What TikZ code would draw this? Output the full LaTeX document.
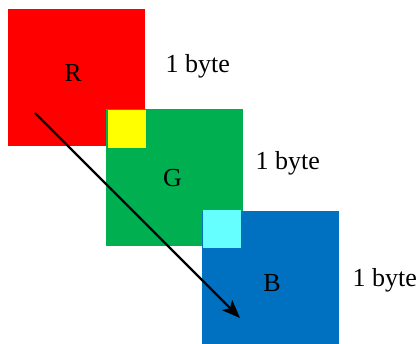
\documentclass[tikz,border=0pt]{standalone}
\usepackage{fontspec}
\setmainfont{Liberation Serif}
\usetikzlibrary{arrows.meta}
\definecolor{cred}{HTML}{FF0000}
\definecolor{cgreen}{HTML}{00B050}
\definecolor{cblue}{HTML}{0070C0}
\definecolor{cyellow}{HTML}{FFFF00}
\definecolor{ccyan}{HTML}{66FFFF}
\tikzset{
  sq/.style={rectangle, draw=none, minimum width=137pt, minimum height=137pt, inner sep=0pt, outer sep=0pt},
  ov/.style={rectangle, draw=none, minimum width=38pt, minimum height=38pt, inner sep=0pt, outer sep=0pt},
  lbl/.style={inner sep=0pt, anchor=base, font=\fontsize{26}{31}\selectfont},
  bytelbl/.style={inner sep=0pt, anchor=base west, font=\fontsize{26}{31}\selectfont},
  arr/.style={line width=2.4pt, -{Stealth[length=18pt,width=14pt,inset=4pt]}}
}
\begin{document}
\begin{tikzpicture}[x=1pt,y=-1pt]
\useasboundingbox (0,0) rectangle (417,344);
\node[sq, fill=cred] (R) at (76.5,77.5) {};
\node[sq, fill=cgreen] (G) at (174.5,177.5) {};
\node[sq, fill=cblue] (B) at (270.5,279.5) {};
\node[ov, fill=cyellow] (Y) at (127,129) {};
\node[ov, fill=ccyan] (C) at (222,229) {};
\node[lbl] (Rl) at (73,81.5) {R};
\node[lbl] (Gl) at (172.5,186.5) {G};
\node[lbl] (Bl) at (272,291.5) {B};
\node[bytelbl] (b1) at (165.5,72.5) {1 byte};
\node[bytelbl] (b2) at (255.5,169.5) {1 byte};
\node[bytelbl] (b3) at (352.5,286.5) {1 byte};
\coordinate (as) at (35,113);
\coordinate (ae) at (240,318);
\draw[arr] (as) -- (ae);
\end{tikzpicture}
\end{document}
